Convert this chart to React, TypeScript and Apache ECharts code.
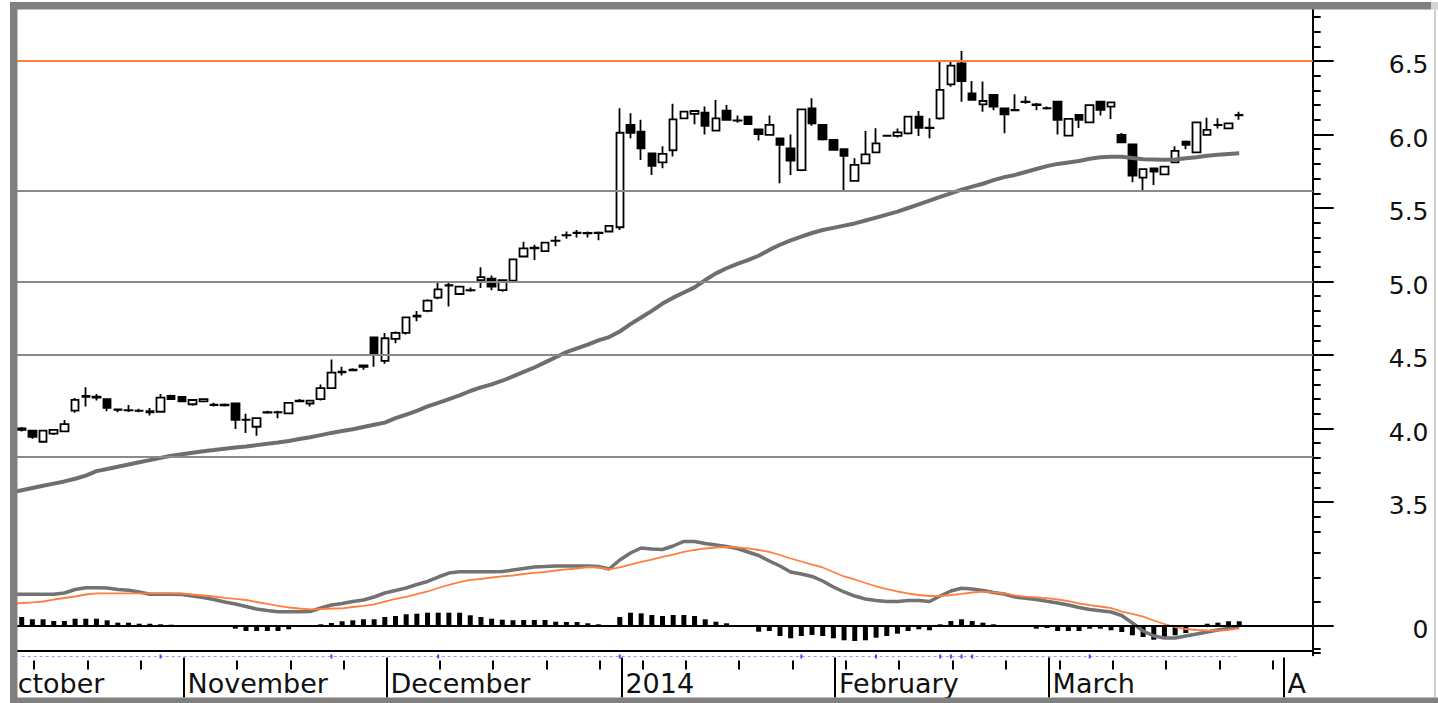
import React, { useEffect, useRef } from 'react';
import * as echarts from 'echarts';

// ---------- data ----------
const opens = [
  4.00, 3.985, 3.91, 3.965, 3.98, 4.121, 4.215, 4.21, 4.199, 4.13,
  4.125, 4.122, 4.118, 4.114, 4.222, 4.215, 4.165, 4.185, 4.162, 4.162,
  4.171, 4.06, 4.012, 4.108, 4.112, 4.103, 4.185, 4.17, 4.2, 4.275,
  4.382, 4.396, 4.43, 4.62, 4.46, 4.61, 4.65, 4.762, 4.80, 4.89,
  4.972, 4.915, 4.94, 5.01, 5.02, 4.942, 5.005, 5.17, 5.23, 5.207,
  5.276, 5.316, 5.33, 5.33, 5.332, 5.34, 5.369, 6.065, 6.019, 5.872,
  5.811, 5.893, 6.11, 6.14, 6.148, 6.026, 6.162, 6.096, 6.121, 6.035,
  5.997, 5.974, 5.906, 5.758, 6.178, 6.065, 5.963, 5.9, 5.684, 5.804,
  5.879, 5.99, 5.99, 6.008, 6.121, 6.046, 6.11, 6.341, 6.484, 6.28,
  6.205, 6.269, 6.178, 6.167, 6.223, 6.205, 6.18, 6.223, 5.992, 6.133,
  6.083, 6.223, 6.19, 5.997, 5.933, 5.706, 5.77, 5.729, 5.811, 5.951,
  5.879, 5.997, 6.066, 6.042, 6.133,
];
const closes = [
  3.99, 3.944, 3.985, 3.99, 4.03, 4.195, 4.222, 4.216, 4.14, 4.127,
  4.123, 4.12, 4.11, 4.21, 4.2, 4.185, 4.194, 4.2, 4.16, 4.158,
  4.058, 4.058, 4.07, 4.112, 4.11, 4.175, 4.189, 4.19, 4.275, 4.38,
  4.386, 4.4, 4.42, 4.51, 4.614, 4.65, 4.756, 4.768, 4.87, 4.947,
  4.976, 4.965, 4.942, 5.03, 4.965, 5.01, 5.151, 5.226, 5.226, 5.264,
  5.278, 5.314, 5.332, 5.328, 5.33, 5.378, 6.012, 6.012, 5.906, 5.786,
  5.868, 6.103, 6.155, 6.16, 6.058, 6.11, 6.099, 6.094, 6.071, 6.003,
  6.065, 5.929, 5.822, 6.171, 6.076, 5.967, 5.895, 5.854, 5.793, 5.865,
  5.94, 5.992, 6.015, 6.121, 6.046, 6.044, 6.303, 6.468, 6.364, 6.235,
  6.228, 6.19, 6.137, 6.165, 6.221, 6.2, 6.178, 6.099, 6.106, 6.1,
  6.2, 6.167, 6.219, 5.947, 5.72, 5.765, 5.747, 5.781, 5.888, 5.929,
  6.083, 6.031, 6.064, 6.076, 6.131,
];
const lows = [
  3.98, 3.93, 3.905, 3.955, 3.975, 4.107, 4.15, 4.19, 4.118, 4.11,
  4.113, 4.11, 4.088, 4.11, 4.195, 4.18, 4.155, 4.18, 4.15, 4.15,
  3.997, 3.97, 3.95, 4.1, 4.07, 4.1, 4.18, 4.15, 4.19, 4.27,
  4.36, 4.39, 4.4, 4.42, 4.44, 4.58, 4.64, 4.73, 4.79, 4.88,
  4.83, 4.91, 4.93, 4.955, 4.94, 4.93, 5.0, 5.165, 5.146, 5.2,
  5.24, 5.29, 5.3, 5.3, 5.28, 5.338, 5.35, 5.974, 5.827, 5.724,
  5.77, 5.85, 6.105, 6.07, 6.0, 6.02, 6.095, 6.08, 6.065, 5.96,
  5.995, 5.668, 5.724, 5.75, 6.06, 5.96, 5.89, 5.622, 5.68, 5.8,
  5.875, 5.985, 5.98, 6.0, 5.99, 5.974, 6.1, 6.325, 6.223, 6.23,
  6.155, 6.165, 6.008, 6.16, 6.21, 6.165, 6.17, 6.0, 5.99, 6.045,
  6.08, 6.13, 6.105, 5.94, 5.675, 5.622, 5.656, 5.725, 5.808, 5.9,
  5.875, 5.995, 6.04, 6.04, 6.1,
];
const highs = [
  4.01, 3.99, 3.99, 3.995, 4.058, 4.207, 4.28, 4.235, 4.2, 4.135,
  4.16, 4.135, 4.14, 4.235, 4.23, 4.22, 4.2, 4.205, 4.175, 4.17,
  4.175, 4.1, 4.075, 4.12, 4.12, 4.18, 4.2, 4.195, 4.3, 4.47,
  4.42, 4.41, 4.435, 4.62, 4.65, 4.66, 4.76, 4.8, 4.88, 5.0,
  4.99, 4.97, 4.96, 5.097, 5.04, 5.012, 5.155, 5.27, 5.25, 5.265,
  5.31, 5.34, 5.35, 5.34, 5.34, 5.385, 6.178, 6.144, 6.1, 5.875,
  5.92, 6.21, 6.16, 6.165, 6.19, 6.235, 6.2, 6.13, 6.125, 6.04,
  6.13, 5.98, 6.0, 6.175, 6.246, 6.07, 5.968, 5.905, 5.838, 6.024,
  6.042, 5.995, 6.04, 6.125, 6.16, 6.11, 6.507, 6.5, 6.568, 6.364,
  6.36, 6.275, 6.18, 6.273, 6.26, 6.215, 6.19, 6.225, 6.11, 6.135,
  6.205, 6.226, 6.222, 6.01, 5.935, 5.77, 5.772, 5.785, 5.92, 5.96,
  6.086, 6.114, 6.11, 6.08, 6.155,
];

// indicator lines start one trading day before the first visible candle
const lineStartIndex = -1;
const movingAverage = [
  3.565,
  3.58, 3.595, 3.61, 3.625, 3.64, 3.658, 3.68, 3.71, 3.725, 3.74,
  3.755, 3.77, 3.785, 3.80, 3.815, 3.825, 3.835, 3.845, 3.853, 3.862,
  3.87, 3.878, 3.887, 3.896, 3.905, 3.915, 3.928, 3.94, 3.955, 3.97,
  3.983, 3.995, 4.01, 4.025, 4.04, 4.07, 4.095, 4.12, 4.15, 4.175,
  4.2, 4.225, 4.255, 4.28, 4.3, 4.325, 4.355, 4.385, 4.415, 4.45,
  4.485, 4.52, 4.545, 4.57, 4.6, 4.622, 4.66, 4.71, 4.755, 4.8,
  4.85, 4.89, 4.925, 4.96, 5.01, 5.055, 5.09, 5.12, 5.145, 5.175,
  5.215, 5.25, 5.28, 5.305, 5.33, 5.35, 5.365, 5.38, 5.395, 5.415,
  5.435, 5.455, 5.475, 5.5, 5.525, 5.55, 5.575, 5.6, 5.625, 5.645,
  5.665, 5.69, 5.71, 5.725, 5.745, 5.765, 5.785, 5.8, 5.81, 5.82,
  5.835, 5.845, 5.849, 5.848, 5.84, 5.832, 5.83, 5.828, 5.83, 5.838,
  5.845, 5.855, 5.862, 5.868, 5.872,
];
const macdLine = [
  0.0652,
  0.0652, 0.0652, 0.0652, 0.0652, 0.0679, 0.0751, 0.0788, 0.0788, 0.0782, 0.0751,
  0.0735, 0.07, 0.0652, 0.0652, 0.0652, 0.0648, 0.0617, 0.0586, 0.0545, 0.0494,
  0.0453, 0.0401, 0.035, 0.0319, 0.0294, 0.0294, 0.0294, 0.0298, 0.037, 0.0432,
  0.0463, 0.0504, 0.0535, 0.0597, 0.0679, 0.073, 0.0782, 0.0854, 0.0916, 0.1008,
  0.109, 0.1117, 0.1117, 0.1117, 0.1117, 0.1121, 0.1152, 0.1183, 0.1214, 0.1224,
  0.1235, 0.1235, 0.1235, 0.1235, 0.1224, 0.1173, 0.1358, 0.1502, 0.1605, 0.1584,
  0.1574, 0.1646, 0.1739, 0.1739, 0.1698, 0.1667, 0.1636, 0.1595, 0.1523, 0.1451,
  0.1337, 0.1235, 0.1111, 0.107, 0.1019, 0.0926, 0.0802, 0.07, 0.0617, 0.0556,
  0.0525, 0.0504, 0.0504, 0.0525, 0.0525, 0.0504, 0.0617, 0.072, 0.0776, 0.0761,
  0.073, 0.0689, 0.0658, 0.0597, 0.057, 0.0545, 0.0508, 0.0473, 0.0432, 0.0381,
  0.034, 0.0315, 0.0288, 0.0216, 0.0062, -0.0103, -0.0206, -0.0247, -0.0247, -0.0206,
  -0.0165, -0.0123, -0.0082, -0.0047, -0.0014,
];
const signalLine = [
  0.046,
  0.0473, 0.0488, 0.0504, 0.0545, 0.0576, 0.0607, 0.0648, 0.0673, 0.0673, 0.0673,
  0.0673, 0.0673, 0.0673, 0.0673, 0.0673, 0.0669, 0.0648, 0.0628, 0.0607, 0.058,
  0.0556, 0.0535, 0.0494, 0.0453, 0.0412, 0.0381, 0.036, 0.0344, 0.035, 0.036,
  0.0364, 0.0391, 0.0416, 0.0447, 0.0504, 0.0556, 0.0597, 0.0658, 0.071, 0.0782,
  0.0844, 0.0905, 0.0947, 0.0967, 0.0998, 0.1019, 0.1039, 0.107, 0.1091, 0.1111,
  0.1142, 0.1163, 0.1183, 0.1214, 0.1204, 0.1163, 0.1204, 0.1265, 0.1317, 0.1368,
  0.142, 0.1471, 0.1523, 0.1564, 0.1595, 0.1615, 0.1626, 0.1619, 0.1595, 0.1564,
  0.1523, 0.1461, 0.1389, 0.1327, 0.1265, 0.1204, 0.1111, 0.1019, 0.0957, 0.0885,
  0.0817, 0.0761, 0.071, 0.0669, 0.0638, 0.0617, 0.0617, 0.0638, 0.0663, 0.0689,
  0.0706, 0.0693, 0.0669, 0.0628, 0.0605, 0.0588, 0.0572, 0.0545, 0.0514, 0.0463,
  0.0428, 0.0401, 0.0366, 0.0298, 0.0247, 0.0191, 0.0113, 0.0041, -0.0021, -0.0062,
  -0.0082, -0.0093, -0.0097, -0.0082, -0.0047,
];
const histogram = [
  0.0185, 0.0138, 0.0138, 0.0103, 0.0103, 0.015, 0.015, 0.015, 0.0117, 0.0068,
  0.0068, 0.0047, 0.0047, 0.0035, 0.0027, 0.0014, 0.001, 0.0006, 0, -0.0014,
  -0.0055, -0.0103, -0.0103, -0.0103, -0.0103, -0.0068, -0.0006, 0.001, 0.0035, 0.0062,
  0.0097, 0.0117, 0.0138, 0.0138, 0.0185, 0.0206, 0.0241, 0.0253, 0.0274, 0.0274,
  0.0274, 0.0274, 0.022, 0.0185, 0.015, 0.013, 0.0117, 0.0123, 0.0123, 0.0123,
  0.0088, 0.0082, 0.0082, 0.0056, 0.0035, 0.0021, 0.0185, 0.0274, 0.0261, 0.0226,
  0.0206, 0.0226, 0.0226, 0.0206, 0.0138, 0.0088, 0.0056, 0.0014, 0, -0.0117,
  -0.0103, -0.0206, -0.0253, -0.0206, -0.0185, -0.0206, -0.0253, -0.0294, -0.0309, -0.0294,
  -0.0241, -0.0206, -0.0158, -0.0103, -0.0068, -0.0088, 0.0035, 0.0103, 0.0138, 0.0103,
  0.0068, 0.0035, 0.0014, 0, -0.0014, -0.0055, -0.0041, -0.0103, -0.0103, -0.0103,
  -0.0055, -0.0055, -0.0088, -0.0123, -0.0191, -0.0226, -0.0282, -0.0241, -0.0191, -0.0144,
  -0.001, 0.0047, 0.0068, 0.0097, 0.0097,
];

// axis marks (trading-day index of each month start / weekly tick)
const firstMonthVisibleText = 'ctober'; // "October", clipped by the frame in the original
const monthStarts = [15, 34, 56, 76, 96, 118];
const monthNames = ['November', 'December', '2014', 'February', 'March', 'April'];
const weekTicks = [1, 6, 11, 20, 25, 30, 39, 44, 49, 54, 58, 62, 67, 72, 77, 82, 87, 92, 97, 102, 107, 112, 117];
const eventMarks = [13, 29, 39, 56, 73, 80, 86, 87, 88, 89, 100];

const priceLabels = [3.5, 4.0, 4.5, 5.0, 5.5, 6.0, 6.5];
const priceMinorTicks = [
  3.3, 3.4, 3.5, 3.6, 3.7, 3.8, 3.9, 4.0, 4.1, 4.2, 4.3, 4.4, 4.5, 4.6, 4.7, 4.8, 4.9, 5.0,
  5.1, 5.2, 5.3, 5.4, 5.5, 5.6, 5.7, 5.8, 5.9, 6.0, 6.1, 6.2, 6.3, 6.4, 6.5, 6.6, 6.7, 6.8,
];
const macdLabels = [0];
const macdMinorTicks = [-0.0556, -0.0473, 0.05, 0.1, 0.15];

const resistanceLevel = 6.5;
const supportLevels = [5.615, 5.0, 4.5, 3.813];

// ---------- layout ----------
const PLOT_L = 16.36;
const PLOT_R = 1312.7;
const SLOT = 10.68;
const X_MIN = -0.5;
const X_MAX = (PLOT_R - PLOT_L) / SLOT - 0.5;
const TICK_SHIFT = 0.15;
const OCT_LABEL_START = -0.38;
const PRICE_MIN = 2.49;
const PRICE_MAX = 6.85;
const PRICE_PX = 147;
const PRICE_TOP = 61 - (PRICE_MAX - 6.5) * PRICE_PX;
const MACD_MIN = -0.06;
const MACD_MAX = 0.2;
const MACD_PX = 486;
const MACD_ZERO_Y = 626;

const FONT = '"DejaVu Sans", sans-serif';
const ORANGE = '#ff7f3f';

function buildOption() {
  const candleData = opens.map((o, i) => [i, o, closes[i], lows[i], highs[i]]);
  const maData = movingAverage.map((v, i) => [i + lineStartIndex, v]);
  const macdData = macdLine.map((v, i) => [i + lineStartIndex, v]);
  const signalData = signalLine.map((v, i) => [i + lineStartIndex, v]);
  const histData = histogram.map((v, i) => [i, v]);

  const hiddenX = (gridIndex: number) => ({
    type: 'value', gridIndex, min: X_MIN, max: X_MAX, show: false,
    axisLine: { onZero: false }, splitLine: { show: false },
  });

  const monthName = (v: number) => {
    const k = monthStarts.findIndex((m) => Math.abs(m + TICK_SHIFT - v) < 0.01);
    return k >= 0 ? monthNames[k] : '';
  };

  const labelFont = { fontFamily: FONT, fontSize: 27, color: '#111' };
  const valueFont = {
    fontFamily: FONT, fontSize: 25, color: '#111', verticalAlign: 'top', lineHeight: 7,
  };
  const gridBase = {
    left: PLOT_L, width: PLOT_R - PLOT_L, containLabel: false, outerBoundsMode: 'none',
  };

  return {
    animation: false,
    backgroundColor: '#ffffff',
    grid: [
      { ...gridBase, top: PRICE_TOP, height: (PRICE_MAX - PRICE_MIN) * PRICE_PX },
      { ...gridBase, top: MACD_ZERO_Y - MACD_MAX * MACD_PX, height: (MACD_MAX - MACD_MIN) * MACD_PX },
      { ...gridBase, top: 655, height: 3 },
    ],
    xAxis: [
      {
        type: 'value', gridIndex: 0, min: X_MIN, max: X_MAX, position: 'bottom',
        axisLine: { show: true, onZero: false, lineStyle: { color: '#000', width: 2 } },
        axisTick: { show: false }, axisLabel: { show: false }, splitLine: { show: false },
      },
      hiddenX(1),
      hiddenX(2),
      {
        type: 'value', gridIndex: 0, min: X_MIN, max: X_MAX, position: 'bottom', offset: 7,
        axisLine: { show: false, onZero: false },
        axisTick: {
          show: true, length: 40, customValues: monthStarts.map((m) => m + TICK_SHIFT),
          lineStyle: { color: '#000', width: 2 },
        },
        axisLabel: {
          show: true, customValues: monthStarts.slice(0, 5).map((m) => m + TICK_SHIFT),
          formatter: (v: number) => monthName(v), align: 'left', margin: 13, padding: [0, 0, 0, 4],
          ...labelFont,
        },
        splitLine: { show: false },
      },
      {
        type: 'value', gridIndex: 0, min: X_MIN, max: X_MAX, position: 'bottom', offset: 7,
        axisLine: { show: false, onZero: false }, axisTick: { show: false },
        axisLabel: {
          show: true, customValues: [OCT_LABEL_START], formatter: () => firstMonthVisibleText,
          align: 'left', margin: 13, ...labelFont,
        },
        splitLine: { show: false },
      },
      {
        type: 'value', gridIndex: 0, min: X_MIN, max: X_MAX, position: 'bottom', offset: 7,
        axisLine: { show: false, onZero: false }, axisTick: { show: false },
        axisLabel: {
          show: true, customValues: [monthStarts[5] + TICK_SHIFT], formatter: () => monthNames[5],
          align: 'left', margin: 13, padding: [0, 0, 0, 4], width: 24, overflow: 'truncate', ellipsis: '',
          ...labelFont,
        },
        splitLine: { show: false },
      },
      {
        type: 'value', gridIndex: 0, min: X_MIN, max: X_MAX, position: 'bottom', offset: 10,
        axisLine: { show: false, onZero: false },
        axisTick: {
          show: true, length: 9, customValues: weekTicks.map((w) => w + TICK_SHIFT),
          lineStyle: { color: '#000', width: 2 },
        },
        axisLabel: { show: false }, splitLine: { show: false },
      },
    ],
    yAxis: [
      {
        type: 'value', gridIndex: 0, min: PRICE_MIN, max: PRICE_MAX, position: 'right',
        axisLine: { show: true, onZero: false, lineStyle: { color: '#000', width: 2 } },
        axisTick: { show: true, length: 21, customValues: priceLabels, lineStyle: { color: '#000', width: 2 } },
        axisLabel: {
          show: true, customValues: priceLabels, formatter: (v: number) => v.toFixed(1),
          align: 'right', margin: 115.8, ...valueFont,
        },
        splitLine: { show: false },
      },
      {
        type: 'value', gridIndex: 0, min: PRICE_MIN, max: PRICE_MAX, position: 'right',
        axisLine: { show: false, onZero: false },
        axisTick: { show: true, length: 8, customValues: priceMinorTicks, lineStyle: { color: '#000', width: 2 } },
        axisLabel: { show: false }, splitLine: { show: false },
      },
      {
        type: 'value', gridIndex: 1, min: MACD_MIN, max: MACD_MAX, position: 'right',
        axisLine: { show: true, onZero: false, lineStyle: { color: '#000', width: 2 } },
        axisTick: { show: true, length: 21, customValues: macdLabels, lineStyle: { color: '#000', width: 2 } },
        axisLabel: {
          show: true, customValues: macdLabels, formatter: (v: number) => String(Math.round(v)),
          align: 'right', margin: 115.8, ...valueFont,
        },
        splitLine: { show: false },
      },
      {
        type: 'value', gridIndex: 1, min: MACD_MIN, max: MACD_MAX, position: 'right',
        axisLine: { show: false, onZero: false },
        axisTick: { show: true, length: 8, customValues: macdMinorTicks, lineStyle: { color: '#000', width: 2 } },
        axisLabel: { show: false }, splitLine: { show: false },
      },
      {
        type: 'value', gridIndex: 2, min: 0, max: 1, show: false,
        axisLine: { onZero: false }, splitLine: { show: false },
      },
    ],
    series: [
      {
        name: 'levels', type: 'line', xAxisIndex: 0, yAxisIndex: 0, data: [], z: 1, silent: true,
        markLine: {
          symbol: 'none', silent: true, animation: false, label: { show: false },
          data: [
            { yAxis: resistanceLevel, lineStyle: { color: ORANGE, width: 2, type: 'solid' } },
            ...supportLevels.map((v) => ({ yAxis: v, lineStyle: { color: '#8a8a8a', width: 2, type: 'solid' } })),
          ],
        },
      },
      {
        name: 'price', type: 'candlestick', xAxisIndex: 0, yAxisIndex: 0, data: candleData,
        barWidth: 8, z: 3,
        itemStyle: { color: '#ffffff', color0: '#000000', borderColor: '#000000', borderColor0: '#000000', borderWidth: 1.8 },
      },
      {
        name: 'MA', type: 'line', xAxisIndex: 0, yAxisIndex: 0, data: maData, symbol: 'none', z: 4,
        lineStyle: { color: '#6e6e6e', width: 4 },
      },
      {
        name: 'hist', type: 'bar', xAxisIndex: 1, yAxisIndex: 2, data: histData, barWidth: 5, z: 2,
        itemStyle: { color: '#000' },
        markLine: {
          symbol: 'none', silent: true, label: { show: false },
          data: [{ yAxis: 0, lineStyle: { color: '#000', width: 2, type: 'solid' } }],
        },
      },
      {
        name: 'MACD', type: 'line', xAxisIndex: 1, yAxisIndex: 2, data: macdData, symbol: 'none', z: 3,
        lineStyle: { color: '#727272', width: 3.5 },
      },
      {
        name: 'signal', type: 'line', xAxisIndex: 1, yAxisIndex: 2, data: signalData, symbol: 'none', z: 4,
        lineStyle: { color: ORANGE, width: 1.8 },
      },
      {
        name: 'strip', type: 'line', xAxisIndex: 2, yAxisIndex: 4, symbol: 'none', z: 2,
        data: [[0, 0.5], [opens.length - 1, 0.5]],
        lineStyle: { color: '#9a9aff', width: 1, type: [3, 3] },
      },
      {
        name: 'events', type: 'scatter', xAxisIndex: 2, yAxisIndex: 4, symbol: 'rect', symbolSize: [2, 4], z: 3,
        data: eventMarks.map((i) => [i, 0.5]),
        itemStyle: { color: '#1a1aff' },
      },
    ],
    graphic: [
      { type: 'rect', z: 100, zlevel: 0, shape: { x: 0, y: 0, width: 10, height: 703 }, style: { fill: '#ffffff' } },
      { type: 'rect', z: 100, zlevel: 0, shape: { x: 10, y: 2, width: 1421, height: 7.5 }, style: { fill: '#808080' } },
      { type: 'rect', z: 100, zlevel: 0, shape: { x: 1431, y: 2, width: 7, height: 7.5 }, style: { fill: '#d4d4d4' } },
      { type: 'rect', z: 100, zlevel: 0, shape: { x: 10, y: 2, width: 7.5, height: 701 }, style: { fill: '#808080' } },
      { type: 'rect', z: 100, zlevel: 0, shape: { x: 10, y: 697.5, width: 1428, height: 5.5 }, style: { fill: '#808080' } },
      { type: 'rect', z: 100, zlevel: 0, shape: { x: 1434, y: 9.5, width: 2, height: 688 }, style: { fill: '#cfcfcf' } },
    ],
  };
}

export default function App() {
  const ref = useRef<HTMLDivElement>(null);
  useEffect(() => {
    if (!ref.current) return;
    const chart = echarts.init(ref.current, null, { renderer: 'svg' });
    chart.setOption(buildOption() as any);
    return () => chart.dispose();
  }, []);
  return <div ref={ref} style={{ position: 'fixed', left: 0, top: 0, width: 1438, height: 703 }} />;
}
